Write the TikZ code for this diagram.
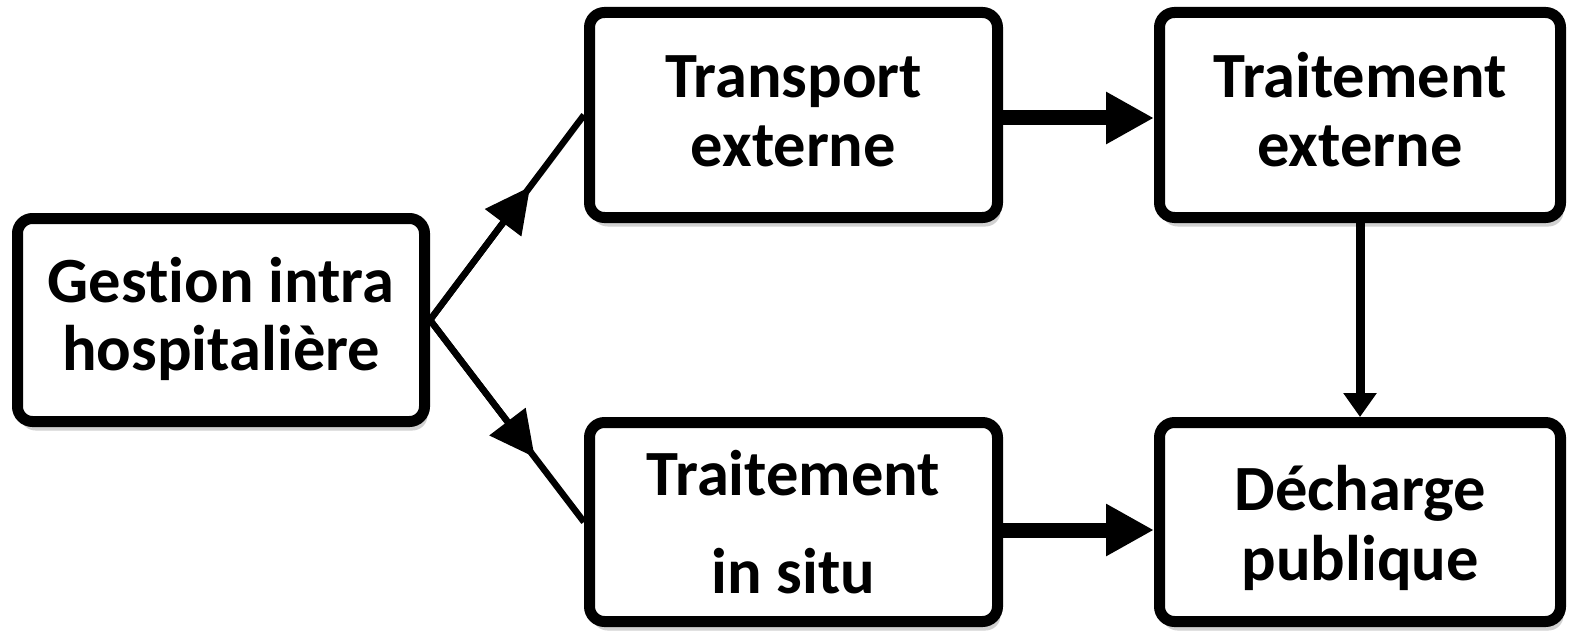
\documentclass[tikz,border=0pt]{standalone}
\usepackage{fontspec}
\setmainfont{Carlito}[Ligatures={NoCommon}]
\usetikzlibrary{arrows.meta,shadows}
\newcommand\topst[1]{\rule{0pt}{#1pt}}
\newcommand\botst{\rule[-16pt]{0pt}{16pt}}
\tikzset{
  box/.style={draw=black, line width=11pt, rounded corners=15pt, fill=white,
    inner sep=0pt, outer sep=5.5pt, align=center,
    drop shadow={shadow xshift=3pt, shadow yshift=-9pt, opacity=0.18, fill=black}},
  fnt/.style={font=\fontsize{64.5}{#1}\selectfont\bfseries},
  diag/.style={line width=6.5pt, -{Triangle[length=45pt,width=44pt]}},
  diagline/.style={line width=6.5pt},
  bigarrow/.style={line width=15pt, -{Triangle[length=48pt,width=49pt]}},
  vertarrow/.style={line width=9pt, -{Triangle[length=24pt,width=32pt]}},
}
\begin{document}
\begin{tikzpicture}[x=1pt, y=-1pt]
\useasboundingbox (0,0) rectangle (1570,631);

\node[box, fnt=68, minimum width=407pt, minimum height=203pt] (A) at (221,320)
  {\topst{48}Gestion intra\\hospitalière\botst};
\node[box, fnt=69, minimum width=408pt, minimum height=205pt] (B) at (793.5,115)
  {\topst{51}Transport\\externe\botst};
\node[box, fnt=69, minimum width=401pt, minimum height=205pt] (C) at (1360,115)
  {\topst{51}Traitement\\externe\botst};
\node[box, fnt=98, minimum width=408pt, minimum height=199pt] (D) at (793.5,522)
  {\topst{60}Traitement\\in situ\botst};
\node[box, fnt=70, minimum width=401pt, minimum height=199pt] (E) at (1360,522)
  {\topst{62}Décharge\\publique\botst};

\path (A.east) -- (B.west) coordinate[pos=0.65] (m1);
\path (A.east) -- (D.west) coordinate[pos=0.68] (m2);
\draw[diagline] (A.east) -- (B.west);
\draw[diagline] (A.east) -- (D.west);
\draw[diag] (A.east) -- (m1);
\draw[diag] (A.east) -- (m2);

\draw[bigarrow] ([yshift=-3pt]B.east) -- ([yshift=-3pt]C.west);
\draw[bigarrow] ([yshift=-8pt]D.east) -- ([yshift=-8pt]E.west);
\draw[vertarrow] (C.south) -- (E.north);
\end{tikzpicture}
\end{document}
